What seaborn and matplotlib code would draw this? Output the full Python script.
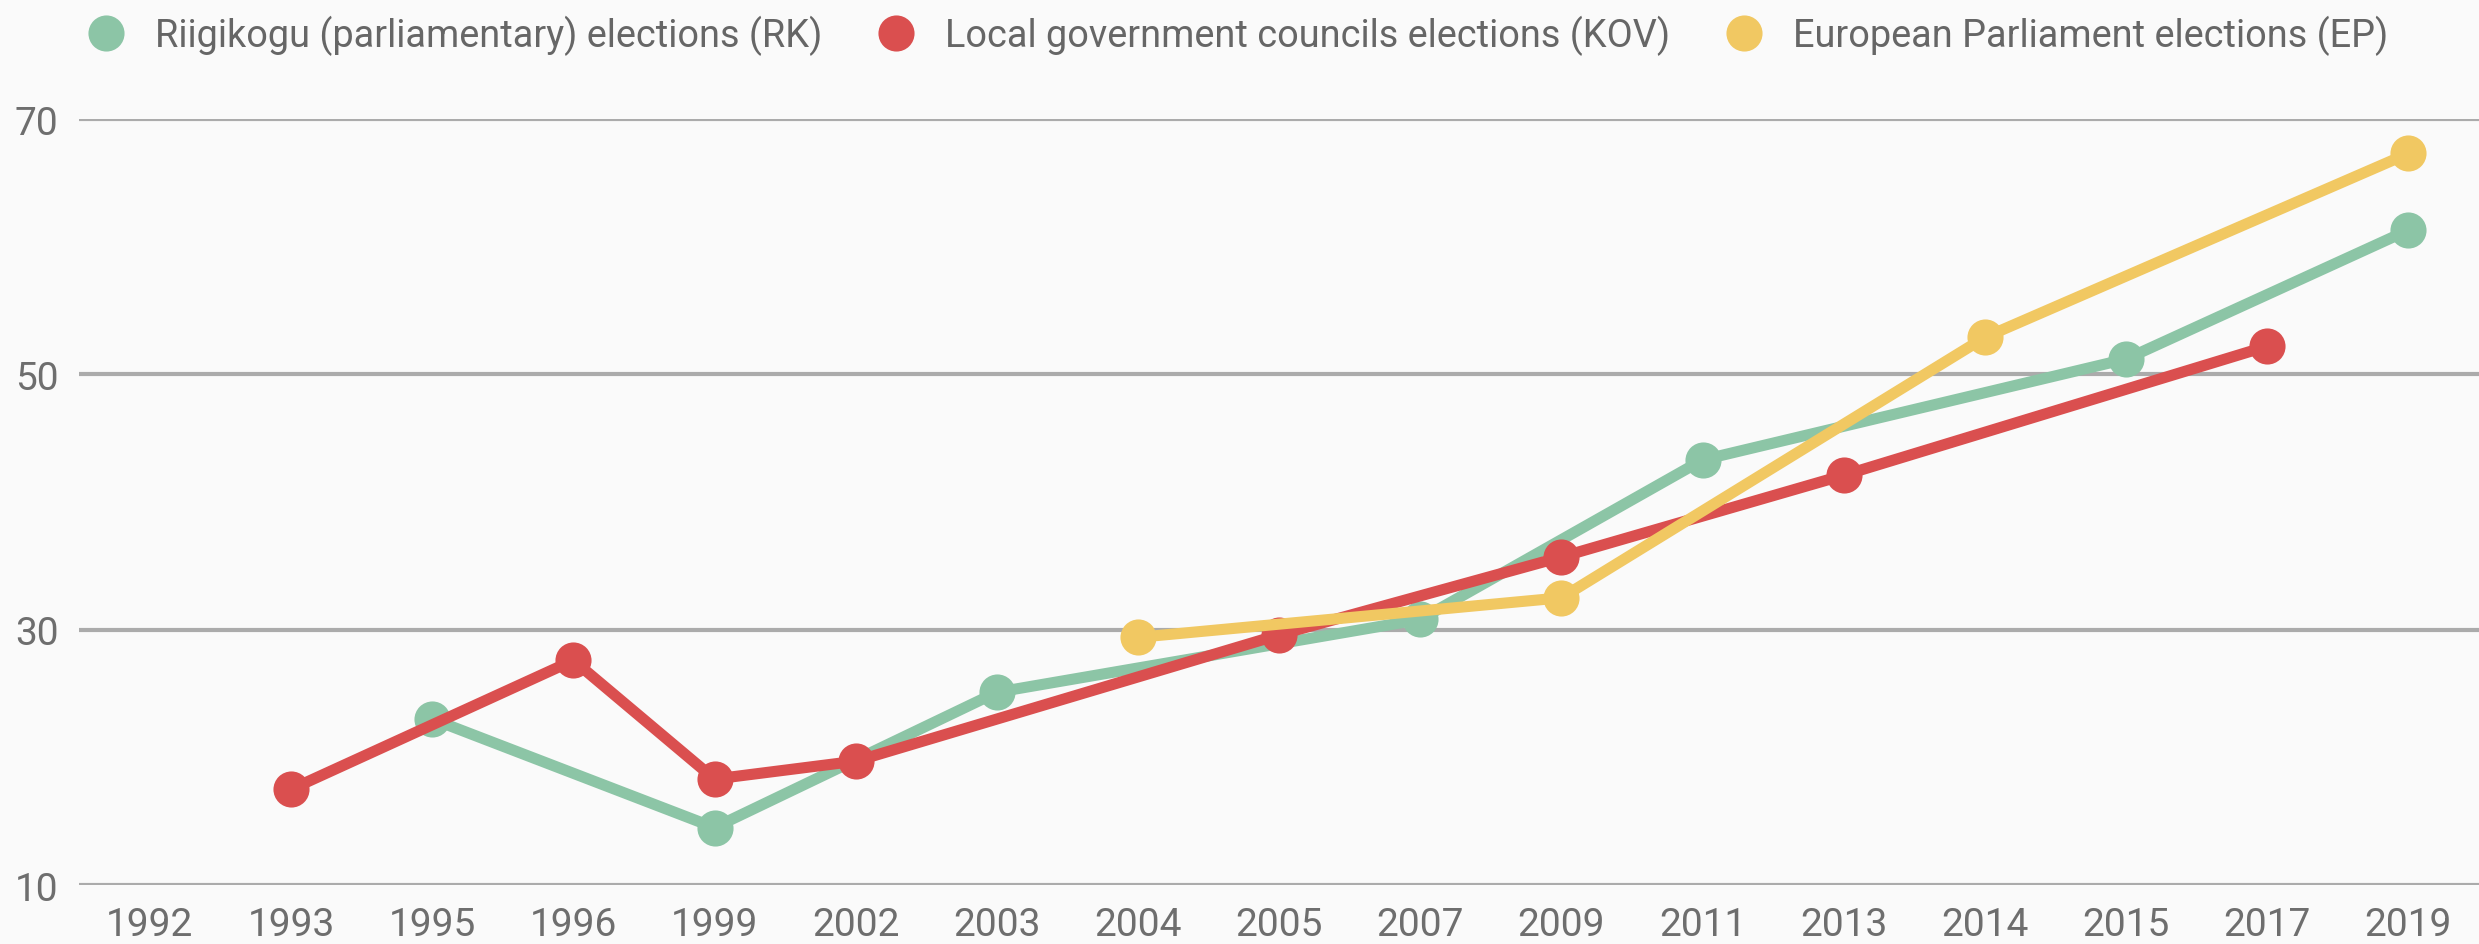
import numpy as np
import pandas as pd
import matplotlib
matplotlib.use("Agg")
import matplotlib.pyplot as plt
from matplotlib.lines import Line2D
import seaborn as sns

years = ["1992", "1993", "1995", "1996", "1999", "2002", "2003", "2004", "2005",
         "2007", "2009", "2011", "2013", "2014", "2015", "2017", "2019"]

rk_years = ["1995", "1999", "2003", "2007", "2011", "2015", "2019"]
rk_values = [23.0, 14.5, 25.1, 30.8, 43.3, 51.2, 61.3]

kov_years = ["1993", "1996", "1999", "2002", "2005", "2009", "2013", "2017"]
kov_values = [17.5, 27.6, 18.3, 19.7, 29.6, 35.7, 42.1, 52.2]

ep_years = ["2004", "2009", "2014", "2019"]
ep_values = [29.4, 32.5, 52.9, 67.3]

series_names = ["Riigikogu (parliamentary) elections (RK)",
                "Local government councils elections (KOV)",
                "European Parliament elections (EP)"]
colors = ["#8cc5a6", "#da4f4f", "#f1c862"]
yticks = [10, 30, 50, 70]

rows = []
for name, ys, vs in zip(series_names, [rk_years, kov_years, ep_years],
                        [rk_values, kov_values, ep_values]):
    for y, v in zip(ys, vs):
        rows.append({"series": name, "pos": years.index(y), "value": v})
df = pd.DataFrame(rows)

sns.set_theme(style="white")
plt.rcParams["font.family"] = ["Roboto", "DejaVu Sans"]

bg = "#fafafa"
fig = plt.figure(figsize=(24.79, 9.45), dpi=100, facecolor=bg)
ax = fig.add_axes([0.032, 0.0624, 0.968, 0.8106])
ax.set_facecolor(bg)

for i, name in enumerate(series_names):
    sub = df[df["series"] == name]
    sns.lineplot(data=sub, x="pos", y="value", ax=ax, color=colors[i],
                 linewidth=8, marker="o", markersize=26, markeredgewidth=0,
                 legend=False, zorder=3 + i, solid_capstyle="round")

ax.set_xlim(-0.5, len(years) - 0.5)
ax.set_ylim(10, 70)
ax.set_xticks(range(len(years)))
ax.set_xticklabels(years)
ax.set_yticks(yticks)
ax.set_yticklabels([str(t) for t in yticks])
ax.grid(axis="y", color="#ababab", linewidth=3)
ax.grid(axis="x", visible=False)
for s in ax.spines.values():
    s.set_visible(False)
ax.tick_params(axis="both", length=0, labelsize=28, colors="#6e6e6e")
ax.tick_params(axis="x", pad=15)
ax.tick_params(axis="y", pad=15)
ax.set_xlabel("")
ax.set_ylabel("")

for line in ax.lines:
    line.set_clip_on(False)

handles = [Line2D([0], [0], marker="o", linestyle="none", markersize=26,
                  markerfacecolor=c, markeredgewidth=0) for c in colors]
fig.legend(handles, series_names, loc="center", bbox_to_anchor=(0.4985, 0.962),
           ncol=3, frameon=False, fontsize=27.3, labelcolor="#666666",
           handletextpad=0.69, columnspacing=1.35, handlelength=1.2,
           borderpad=0, borderaxespad=0)

fig.savefig("out.png", dpi=100, facecolor=bg)
